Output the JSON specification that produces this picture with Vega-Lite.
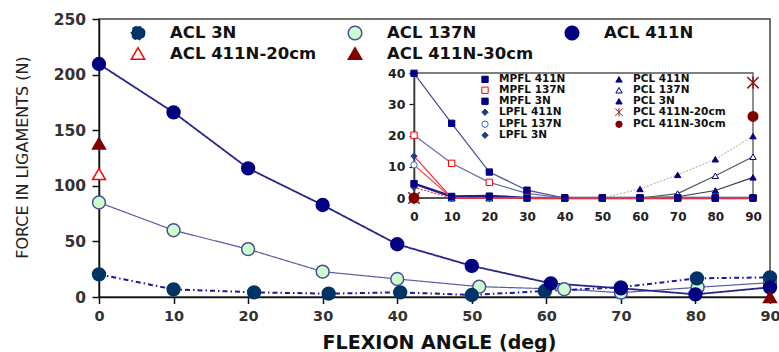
{
  "$schema": "https://vega.github.io/schema/vega-lite/v6.json",
  "autosize": {"type": "none"},
  "padding": {"left": 99, "top": 19, "right": 9, "bottom": 55},
  "width": 671,
  "height": 278,
  "config": {
    "font": "DejaVu Sans",
    "view": {"stroke": "#444", "strokeWidth": 1.5},
    "axis": {"labelFont": "DejaVu Sans", "titleFont": "DejaVu Sans", "grid": false},
    "legend": {"labelFont": "DejaVu Sans"}
  },
  "datasets": {
    "main": [
      {"s": "ACL 137N", "a": 0, "f": 85}, {"s": "ACL 137N", "a": 10, "f": 60}, {"s": "ACL 137N", "a": 20, "f": 43}, {"s": "ACL 137N", "a": 30, "f": 22.8}, {"s": "ACL 137N", "a": 40, "f": 16.2}, {"s": "ACL 137N", "a": 51, "f": 9.3}, {"s": "ACL 137N", "a": 62.4, "f": 7.0}, {"s": "ACL 137N", "a": 70, "f": 3.9}, {"s": "ACL 137N", "a": 80.3, "f": 8.7}, {"s": "ACL 137N", "a": 90, "f": 12.9},
      {"s": "ACL 3N", "a": 0, "f": 20.4}, {"s": "ACL 3N", "a": 10, "f": 6.9}, {"s": "ACL 3N", "a": 20.8, "f": 4.2}, {"s": "ACL 3N", "a": 30.8, "f": 3.0}, {"s": "ACL 3N", "a": 40.4, "f": 4.2}, {"s": "ACL 3N", "a": 50, "f": 1.8}, {"s": "ACL 3N", "a": 59.8, "f": 5.4}, {"s": "ACL 3N", "a": 70, "f": 8.7}, {"s": "ACL 3N", "a": 80.2, "f": 16.8}, {"s": "ACL 3N", "a": 90, "f": 17.7},
      {"s": "ACL 411N", "a": 0, "f": 209.5}, {"s": "ACL 411N", "a": 10, "f": 166}, {"s": "ACL 411N", "a": 20, "f": 115.7}, {"s": "ACL 411N", "a": 30, "f": 82.7}, {"s": "ACL 411N", "a": 40, "f": 47.4}, {"s": "ACL 411N", "a": 50, "f": 28}, {"s": "ACL 411N", "a": 60.6, "f": 12.3}, {"s": "ACL 411N", "a": 70, "f": 7.8}, {"s": "ACL 411N", "a": 80, "f": 2.4}, {"s": "ACL 411N", "a": 90, "f": 8.7},
      {"s": "ACL 411N-20cm", "a": 0, "f": 110.6},
      {"s": "ACL 411N-30cm", "a": 0, "f": 138}, {"s": "ACL 411N-30cm", "a": 90, "f": 0}
    ],
    "inset": [
      {"s": "PCL 3N", "a": 0, "f": 0}, {"s": "PCL 3N", "a": 10, "f": 0}, {"s": "PCL 3N", "a": 20, "f": 0}, {"s": "PCL 3N", "a": 30, "f": 0}, {"s": "PCL 3N", "a": 40, "f": 0}, {"s": "PCL 3N", "a": 50, "f": 0}, {"s": "PCL 3N", "a": 60, "f": 2.9}, {"s": "PCL 3N", "a": 70, "f": 7.4}, {"s": "PCL 3N", "a": 80, "f": 12.4}, {"s": "PCL 3N", "a": 90, "f": 19.8},
      {"s": "PCL 137N", "a": 0, "f": 0}, {"s": "PCL 137N", "a": 10, "f": 0}, {"s": "PCL 137N", "a": 20, "f": 0}, {"s": "PCL 137N", "a": 30, "f": 0}, {"s": "PCL 137N", "a": 40, "f": 0}, {"s": "PCL 137N", "a": 50, "f": 0}, {"s": "PCL 137N", "a": 60, "f": 0}, {"s": "PCL 137N", "a": 70, "f": 1.4}, {"s": "PCL 137N", "a": 80, "f": 7.1}, {"s": "PCL 137N", "a": 90, "f": 13.2},
      {"s": "PCL 411N", "a": 0, "f": 0}, {"s": "PCL 411N", "a": 10, "f": 0}, {"s": "PCL 411N", "a": 20, "f": 0}, {"s": "PCL 411N", "a": 30, "f": 0}, {"s": "PCL 411N", "a": 40, "f": 0}, {"s": "PCL 411N", "a": 50, "f": 0}, {"s": "PCL 411N", "a": 60, "f": 0}, {"s": "PCL 411N", "a": 70, "f": 0.4}, {"s": "PCL 411N", "a": 80, "f": 2.4}, {"s": "PCL 411N", "a": 90, "f": 6.6},
      {"s": "LPFL 3N", "a": 0, "f": 3.4}, {"s": "LPFL 3N", "a": 10, "f": 0}, {"s": "LPFL 3N", "a": 20, "f": 0}, {"s": "LPFL 3N", "a": 30, "f": 0}, {"s": "LPFL 3N", "a": 40, "f": 0}, {"s": "LPFL 3N", "a": 50, "f": 0}, {"s": "LPFL 3N", "a": 60, "f": 0}, {"s": "LPFL 3N", "a": 70, "f": 0}, {"s": "LPFL 3N", "a": 80, "f": 0}, {"s": "LPFL 3N", "a": 90, "f": 0},
      {"s": "LPFL 137N", "a": 0, "f": 10.6}, {"s": "LPFL 137N", "a": 10, "f": 0}, {"s": "LPFL 137N", "a": 20, "f": 0}, {"s": "LPFL 137N", "a": 30, "f": 0}, {"s": "LPFL 137N", "a": 40, "f": 0}, {"s": "LPFL 137N", "a": 50, "f": 0}, {"s": "LPFL 137N", "a": 60, "f": 0}, {"s": "LPFL 137N", "a": 70, "f": 0}, {"s": "LPFL 137N", "a": 80, "f": 0}, {"s": "LPFL 137N", "a": 90, "f": 0},
      {"s": "LPFL 411N", "a": 0, "f": 13.4}, {"s": "LPFL 411N", "a": 10, "f": 0}, {"s": "LPFL 411N", "a": 20, "f": 0}, {"s": "LPFL 411N", "a": 30, "f": 0}, {"s": "LPFL 411N", "a": 40, "f": 0}, {"s": "LPFL 411N", "a": 50, "f": 0}, {"s": "LPFL 411N", "a": 60, "f": 0}, {"s": "LPFL 411N", "a": 70, "f": 0}, {"s": "LPFL 411N", "a": 80, "f": 0}, {"s": "LPFL 411N", "a": 90, "f": 0},
      {"s": "MPFL 137N", "a": 0, "f": 20.1}, {"s": "MPFL 137N", "a": 10, "f": 11.1}, {"s": "MPFL 137N", "a": 20, "f": 5.0}, {"s": "MPFL 137N", "a": 30, "f": 1.5}, {"s": "MPFL 137N", "a": 40, "f": 0}, {"s": "MPFL 137N", "a": 50, "f": 0}, {"s": "MPFL 137N", "a": 60, "f": 0}, {"s": "MPFL 137N", "a": 70, "f": 0}, {"s": "MPFL 137N", "a": 80, "f": 0}, {"s": "MPFL 137N", "a": 90, "f": 0},
      {"s": "MPFL 3N", "a": 0, "f": 4.6}, {"s": "MPFL 3N", "a": 10, "f": 0.5}, {"s": "MPFL 3N", "a": 20, "f": 0.6}, {"s": "MPFL 3N", "a": 30, "f": 0}, {"s": "MPFL 3N", "a": 40, "f": 0}, {"s": "MPFL 3N", "a": 50, "f": 0}, {"s": "MPFL 3N", "a": 60, "f": 0}, {"s": "MPFL 3N", "a": 70, "f": 0}, {"s": "MPFL 3N", "a": 80, "f": 0}, {"s": "MPFL 3N", "a": 90, "f": 0},
      {"s": "MPFL 411N", "a": 0, "f": 39.9}, {"s": "MPFL 411N", "a": 10, "f": 23.9}, {"s": "MPFL 411N", "a": 20, "f": 8.3}, {"s": "MPFL 411N", "a": 30, "f": 2.5}, {"s": "MPFL 411N", "a": 40, "f": 0}, {"s": "MPFL 411N", "a": 50, "f": 0}, {"s": "MPFL 411N", "a": 60, "f": 0}, {"s": "MPFL 411N", "a": 70, "f": 0}, {"s": "MPFL 411N", "a": 80, "f": 0}, {"s": "MPFL 411N", "a": 90, "f": 0},
      {"s": "PCL 411N-20cm", "a": 0, "f": 0}, {"s": "PCL 411N-20cm", "a": 90, "f": 36.9},
      {"s": "PCL 411N-30cm", "a": 0, "f": 0}, {"s": "PCL 411N-30cm", "a": 90, "f": 26.1}
    ]
  },
  "layer": [
    {
      "data": {"name": "main"},
      "encoding": {
        "x": {"field": "a", "type": "quantitative", "scale": {"domain": [0, 90], "nice": false},
          "axis": {"orient": "bottom", "values": [0, 10, 20, 30, 40, 50, 60, 70, 80, 90], "title": "FLEXION ANGLE (deg)", "titleFontSize": 19, "titleFontWeight": "bold", "titleColor": "#111", "titleBaseline": "alphabetic", "titleX": 340, "titleY": 51, "labelFontSize": 14.5, "labelFontWeight": "bold", "labelColor": "#333", "labelPadding": 5.5, "labelFlush": false, "labelOverlap": false, "tickSize": 6.5, "tickColor": "#111", "tickWidth": 1.5, "domainColor": "#111", "domainWidth": 1.5, "grid": false}},
        "y": {"field": "f", "type": "quantitative", "scale": {"domain": [0, 250], "nice": false},
          "axis": {"orient": "left", "values": [0, 50, 100, 150, 200, 250], "title": "FORCE IN LIGAMENTS (N)", "titleFontSize": 16, "titleFontWeight": "normal", "titleColor": "#222", "titleX": -77, "titleY": 138, "titleBaseline": "middle", "titleAngle": 270, "labelFontSize": 15.5, "labelFontWeight": "bold", "labelColor": "#333", "labelPadding": 6.5, "labelFlush": false, "tickSize": 7, "tickColor": "#111", "tickWidth": 1.5, "domainColor": "#111", "domainWidth": 1.5, "grid": false}}
      },
      "layer": [
        {
          "encoding": {
            "strokeDash": {"field": "s", "type": "nominal",
              "scale": {"domain": ["ACL 3N", "ACL 137N", "ACL 411N", "ACL 411N-20cm", "ACL 411N-30cm"], "range": [[5, 3, 1.5, 3], [1, 0], [1, 0], [1, 0], [1, 0]]},
              "legend": {
                "orient": "none", "legendX": 14, "legendY": 5.75, "direction": "horizontal", "columns": 3, "columnPadding": 13, "rowPadding": 1.5, "padding": 0,
                "title": null, "symbolSize": 180, "symbolStrokeWidth": 1.5, "symbolOffset": 16.75, "labelOffset": 23.75,
                "labelFont": "DejaVu Sans", "labelFontWeight": "bold", "labelFontSize": 16.5, "labelColor": "#111", "labelLimit": 0
              }}
          },
          "layer": [
            {"transform": [{"filter": "datum.s === 'ACL 137N'"}], "mark": {"type": "line", "color": "#5b5ba8", "strokeWidth": 1.2}, "encoding": {}},
            {"transform": [{"filter": "datum.s === 'ACL 3N'"}], "mark": {"type": "line", "color": "#1a1aa0", "strokeWidth": 2}, "encoding": {}},
            {"transform": [{"filter": "datum.s === 'ACL 411N'"}], "mark": {"type": "line", "color": "#26268a", "strokeWidth": 1.8}, "encoding": {}}
          ]
        },
        {
          "mark": {"type": "point", "opacity": 1, "strokeWidth": 1.5, "size": 165},
          "encoding": {
            "shape": {"field": "s", "type": "nominal", "legend": null,
              "scale": {"domain": ["ACL 3N", "ACL 137N", "ACL 411N", "ACL 411N-20cm", "ACL 411N-30cm"], "range": ["circle", "circle", "circle", "triangle-up", "triangle-up"]}},
            "fill": {"field": "s", "type": "nominal", "legend": null,
              "scale": {"domain": ["ACL 3N", "ACL 137N", "ACL 411N", "ACL 411N-20cm", "ACL 411N-30cm"], "range": ["#003366", "#ccffcc", "#000080", "#ffffff", "#800000"]}},
            "stroke": {"field": "s", "type": "nominal", "legend": null,
              "scale": {"domain": ["ACL 3N", "ACL 137N", "ACL 411N", "ACL 411N-20cm", "ACL 411N-30cm"], "range": ["#003366", "#4d4d99", "#000080", "#ff0000", "#800000"]}}
          }
        }
      ]
    },
    {
      "data": {"name": "inset"},
      "encoding": {
        "x": {"field": "a", "type": "quantitative", "scale": {"domain": [0, 90], "nice": false, "range": [315, 654]},
          "axis": {"orient": "bottom", "offset": -99, "values": [0, 10, 20, 30, 40, 50, 60, 70, 80, 90], "title": null, "ticks": false, "labelPadding": 13, "labelFontSize": 12, "labelFontWeight": "bold", "labelColor": "#222", "labelFlush": false, "labelOverlap": false, "domainColor": "#777", "domainWidth": 1.2, "grid": false}},
        "y": {"field": "f", "type": "quantitative", "scale": {"domain": [0, 40], "nice": false, "range": [179, 54]},
          "axis": {"orient": "left", "offset": -315, "values": [0, 10, 20, 30, 40], "title": null, "tickSize": 5, "labelPadding": 4, "labelFontSize": 12.5, "labelFontWeight": "bold", "labelColor": "#222", "labelFlush": false, "domainColor": "#111", "domainWidth": 1.5, "tickColor": "#111", "tickWidth": 1.2, "grid": false}}
      },
      "layer": [
        {
          "data": {"values": [{"a": 0, "f": 0}]},
          "mark": {"type": "rect", "filled": false, "stroke": "#555", "strokeWidth": 1.3},
          "encoding": {
            "x2": {"datum": 90},
            "y2": {"datum": 40}
          }
        },
        {
          "encoding": {
            "color": {"field": "s", "type": "nominal", "legend": null,
              "scale": {"domain": ["LPFL 3N", "PCL 411N-30cm", "LPFL 137N", "PCL 411N-20cm", "LPFL 411N", "PCL 3N", "MPFL 3N", "PCL 137N", "MPFL 137N", "PCL 411N", "MPFL 411N"],
                "range": ["#ff3030", "transparent", "#ff4040", "transparent", "#ff3030", "#a8a8a8", "#20208a", "#555555", "#6a6aae", "#3c3c3c", "#4848a0"]}}
          },
          "layer": [
            {"transform": [{"filter": "datum.s === 'MPFL 3N'"}], "mark": {"type": "line", "strokeWidth": 2.6}, "encoding": {}},
            {"transform": [{"filter": "datum.s === 'PCL 3N'"}], "mark": {"type": "line", "strokeWidth": 1, "strokeDash": [2, 1.5]}, "encoding": {}},
            {"transform": [{"filter": "indexof(['PCL 411N','PCL 137N','MPFL 411N','MPFL 137N'], datum.s) >= 0"}], "mark": {"type": "line", "strokeWidth": 1.2}, "encoding": {}},
            {"transform": [{"filter": "indexof(['LPFL 411N','LPFL 137N'], datum.s) >= 0"}], "mark": {"type": "line", "strokeWidth": 1.2}, "encoding": {}},
            {"transform": [{"filter": "datum.s === 'LPFL 3N'"}], "mark": {"type": "line", "strokeWidth": 1.2, "strokeDash": [2, 1.5]}, "encoding": {}}
          ]
        },
        {
          "encoding": {
            "shape": {"field": "s", "type": "nominal",
              "scale": {"domain": ["MPFL 411N", "PCL 411N", "MPFL 137N", "PCL 137N", "MPFL 3N", "PCL 3N", "LPFL 411N", "PCL 411N-20cm", "LPFL 137N", "PCL 411N-30cm", "LPFL 3N"],
                "range": ["square", "triangle-up", "square", "triangle-up", "square", "triangle-up", "diamond", "M-1.2,-1.2L1.2,1.2M-1.2,1.2L1.2,-1.2M0,-1.3V1.3", "circle", "circle", "diamond"]},
              "legend": {
                "orient": "none", "legendX": 374, "legendY": 55, "direction": "horizontal", "columns": 2, "columnPadding": 41, "rowPadding": -1, "padding": 0,
                "title": null, "symbolSize": 40, "symbolStrokeWidth": 1, "symbolOffset": 6.75, "labelOffset": 8.75,
                "labelFont": "DejaVu Sans", "labelFontWeight": "bold", "labelFontSize": 10.5, "labelColor": "#111", "labelLimit": 0
              }},
            "fill": {"field": "s", "type": "nominal", "legend": null,
              "scale": {"domain": ["MPFL 411N", "PCL 411N", "MPFL 137N", "PCL 137N", "MPFL 3N", "PCL 3N", "LPFL 411N", "PCL 411N-20cm", "LPFL 137N", "PCL 411N-30cm", "LPFL 3N"],
                "range": ["#000080", "#000080", "#ffffff", "#ffffff", "#000080", "#000080", "#1f3f7f", "transparent", "#ffffff", "#800000", "#1f3f7f"]}},
            "stroke": {"field": "s", "type": "nominal", "legend": null,
              "scale": {"domain": ["MPFL 411N", "PCL 411N", "MPFL 137N", "PCL 137N", "MPFL 3N", "PCL 3N", "LPFL 411N", "PCL 411N-20cm", "LPFL 137N", "PCL 411N-30cm", "LPFL 3N"],
                "range": ["#000080", "#000080", "#ff0000", "#000080", "#000080", "#000080", "#1f3f7f", "#8b1a1a", "#3366cc", "#800000", "#1f3f7f"]}}
          },
          "layer": [
            {"transform": [{"filter": "indexof(['PCL 411N-20cm','PCL 411N-30cm'], datum.s) < 0"}], "mark": {"type": "point", "opacity": 1, "strokeWidth": 1, "size": 40}, "encoding": {}},
            {"transform": [{"filter": "indexof(['PCL 411N-20cm','PCL 411N-30cm'], datum.s) >= 0"}], "mark": {"type": "point", "opacity": 1, "strokeWidth": 1.5, "size": 90}, "encoding": {}}
          ]
        }
      ]
    }
  ],
  "resolve": {"scale": {"x": "independent", "y": "independent", "color": "independent", "shape": "independent", "fill": "independent", "stroke": "independent", "strokeDash": "independent"}}
}
